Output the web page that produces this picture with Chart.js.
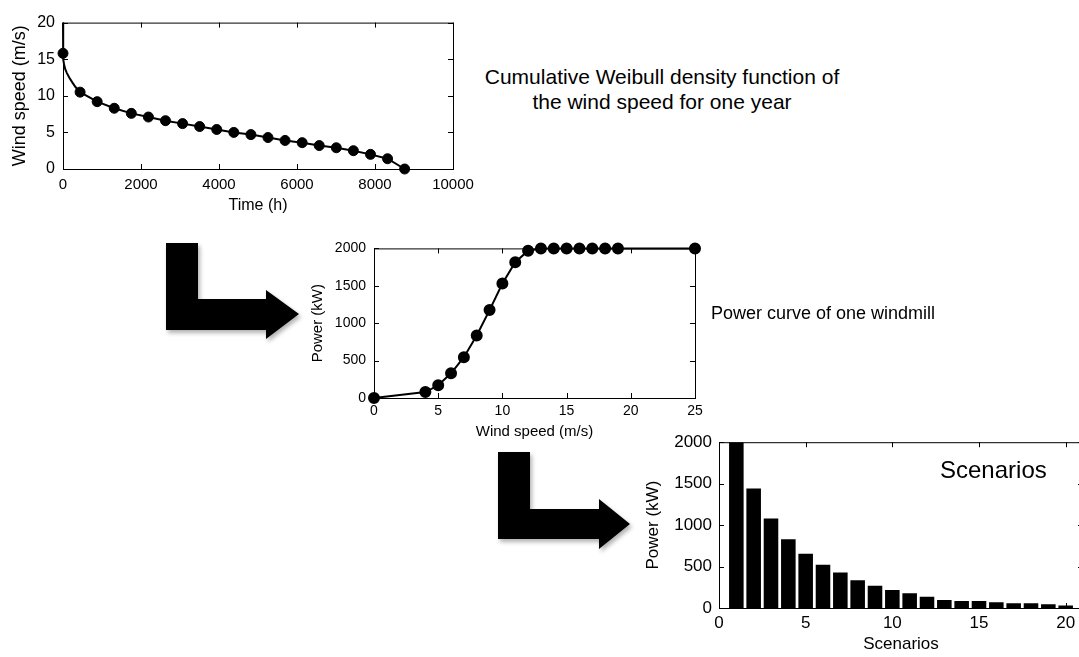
<!DOCTYPE html>
<html>
<head>
<meta charset="utf-8">
<script src="https://cdn.jsdelivr.net/npm/chart.js@4.4.1/dist/chart.umd.min.js"></script>
<style>
  html, body { margin: 0; padding: 0; background: #fff; overflow: hidden; width: 1079px; height: 657px; }
  body { position: relative; font-family: "Liberation Sans", Arial, sans-serif; color: #000; }
  .box { position: absolute; }
  .note { position: absolute; white-space: nowrap; line-height: 1; }
  svg { position: absolute; left: 0; top: 0; }
</style>
</head>
<body>

<div class="box" id="box1"><canvas id="weibull"></canvas></div>
<div class="box" id="box2"><canvas id="powercurve"></canvas></div>
<div class="box" id="box3"><canvas id="scenarios"></canvas></div>

<div class="note" style="left:662px;top:64px;font-size:21px;transform:translateX(-50%);text-align:center;line-height:25px;">
  Cumulative Weibull density function of<br>the wind speed for one year
</div>
<div class="note" style="left:711px;top:304px;font-size:18px;">Power curve of one windmill</div>
<div class="note" style="left:940px;top:458px;font-size:24px;">Scenarios</div>

<svg width="1079" height="657">
  <defs>
    <filter id="shade" x="-10%" y="-10%" width="130%" height="130%">
      <feDropShadow dx="2" dy="3" stdDeviation="2" flood-color="#000" flood-opacity="0.3"/>
    </filter>
  </defs>
  <polygon filter="url(#shade)" fill="#000"
    points="166,243 198,243 198,299 266,299 266,290 299,314 266,339 266,330 166,330"/>
  <polygon filter="url(#shade)" fill="#000"
    points="498,452 530,452 530,509 599,509 599,499 630,524 599,549 599,539 498,539"/>
</svg>

<script>
Chart.defaults.color = '#000';
Chart.defaults.font.family = '"Liberation Sans", Arial, sans-serif';
Chart.defaults.animation = false;

// --- chart 1: wind speed duration curve ---
const hours = [0, 438, 876, 1314, 1752, 2190, 2628, 3066, 3504, 3942, 4380,
  4818, 5256, 5694, 6132, 6570, 7008, 7446, 7884, 8322, 8760];
const windSpeed = [15.8, 10.5, 9.2, 8.3, 7.6, 7.1, 6.6, 6.2, 5.8, 5.4, 5.0,
  4.7, 4.3, 3.9, 3.6, 3.2, 2.9, 2.5, 2.0, 1.4, 0];
// steep start of the curve, between x=0 and the second marker
const headHours = [0, 0, 10, 30, 60, 100, 160, 230, 320];
const headSpeed = [20, 15.8, 15.0, 14.2, 13.6, 13.1, 12.5, 11.9, 11.2];
const timeTicks = [0, 2000, 4000, 6000, 8000, 10000];
const speedTicks = [0, 5, 10, 15, 20];

// --- chart 2: power curve ---
const curveSpeed = [0, 4, 5, 6, 7, 8, 9, 10, 11, 12, 13, 14, 15, 16, 17, 18, 19, 25];
const curvePower = [0, 80, 170, 330, 545, 835, 1175, 1530, 1815, 1970,
  2000, 2000, 2000, 2000, 2000, 2000, 2000, 2000];
const curveSpeedTicks = [0, 5, 10, 15, 20, 25];
const powerTicks = [0, 500, 1000, 1500, 2000];

// --- chart 3: scenarios ---
const scenarioNo = [1, 2, 3, 4, 5, 6, 7, 8, 9, 10, 11, 12, 13, 14, 15, 16, 17, 18, 19, 20];
const scenarioPower = [2000, 1442, 1079, 829, 654, 521, 429, 335, 269, 217,
  177, 135, 98, 84, 84, 69, 58, 58, 45, 31];
const scenarioTicks = [0, 5, 10, 15, 20];

const zip = (xs, ys) => xs.map((x, i) => ({ x, y: ys[i] }));

// matlab-ish box with inward ticks on all four sides
const matlabAxes = {
  id: 'matlabAxes',
  beforeDatasetsDraw(chart, args, opts) {
    const { ctx, chartArea: a } = chart;
    const { x, y } = chart.scales;
    const len = opts.tickLen || 5;
    ctx.save();
    ctx.strokeStyle = '#000';
    ctx.lineWidth = 1;
    ctx.strokeRect(a.left + 0.5, a.top + 0.5, a.right - a.left, a.bottom - a.top);
    ctx.beginPath();
    x.ticks.forEach((t) => {
      const px = Math.round(x.getPixelForValue(t.value)) + 0.5;
      ctx.moveTo(px, a.bottom); ctx.lineTo(px, a.bottom - len);
      ctx.moveTo(px, a.top); ctx.lineTo(px, a.top + len);
    });
    y.ticks.forEach((t) => {
      const py = Math.round(y.getPixelForValue(t.value)) + 0.5;
      ctx.moveTo(a.left, py); ctx.lineTo(a.left + len, py);
      ctx.moveTo(a.right, py); ctx.lineTo(a.right - len, py);
    });
    ctx.stroke();
    ctx.restore();
  },
};

// place a chart so its plot area lands on the given rectangle
function place(boxId, g) {
  const el = document.getElementById(boxId);
  el.style.left = (g.l - g.yW) + 'px';
  el.style.top = (g.t - g.padT) + 'px';
  el.style.width = (g.r + g.padR - g.l + g.yW) + 'px';
  el.style.height = (g.b + g.xH - g.t + g.padT) + 'px';
}

const plain = (v) => String(v);

function axes(g, xr, yr) {
  return {
    x: {
      type: 'linear', min: xr.min, max: xr.max, offset: false,
      grid: { display: false, drawTicks: false }, border: { display: false },
      afterBuildTicks: (s) => { s.ticks = xr.ticks.map((v) => ({ value: v })); },
      afterFit: (s) => { s.height = g.xH; },
      ticks: { padding: g.xPad, maxRotation: 0, font: { size: g.xTick }, callback: plain },
      title: { display: true, text: xr.title, padding: 0, font: { size: g.xTitle } },
    },
    y: {
      type: 'linear', min: yr.min, max: yr.max,
      grid: { display: false, drawTicks: false }, border: { display: false },
      afterBuildTicks: (s) => { s.ticks = yr.ticks.map((v) => ({ value: v })); },
      afterFit: (s) => { s.width = g.yW; },
      ticks: { padding: g.yPad, font: { size: g.yTick }, callback: plain },
      title: { display: true, text: yr.title, padding: 0, font: { size: g.yTitle } },
    },
  };
}

function baseOptions(g, xr, yr) {
  return {
    responsive: true,
    maintainAspectRatio: false,
    layout: { padding: { top: g.padT, right: g.padR, left: 0, bottom: 0 } },
    plugins: { legend: { display: false }, tooltip: { enabled: false }, matlabAxes: { tickLen: 5 } },
    scales: axes(g, xr, yr),
  };
}

const g1 = { l: 63, t: 15, r: 453, b: 169, yW: 54, xH: 46, padT: 10, padR: 30,
  xPad: 7, yPad: 8, xTick: 15, yTick: 16, xTitle: 16, yTitle: 18 };
const g2 = { l: 374, t: 242, r: 695, b: 398, yW: 65, xH: 43, padT: 10, padR: 20,
  xPad: 5, yPad: 8, xTick: 14, yTick: 14, xTitle: 15, yTitle: 15 };
const g3 = { l: 719, t: 435, r: 1083, b: 608, yW: 76, xH: 47, padT: 10, padR: 5,
  xPad: 5, yPad: 7, xTick: 17, yTick: 17, xTitle: 17, yTitle: 17 };

place('box1', g1);
place('box2', g2);
place('box3', g3);

new Chart(document.getElementById('weibull'), {
  type: 'line',
  data: {
    datasets: [
      {
        // head of the curve, then on through the markers (first marker is already in the head)
        data: zip(headHours, headSpeed).concat(zip(hours, windSpeed).slice(1)),
        borderColor: '#000', borderWidth: 2, pointRadius: 0, tension: 0, clip: false,
      },
      {
        data: zip(hours, windSpeed),
        showLine: false, pointRadius: 5, pointBackgroundColor: '#000',
        pointBorderColor: '#000', clip: false,
      },
    ],
  },
  options: baseOptions(g1,
    { min: 0, max: 10000, ticks: timeTicks, title: 'Time (h)' },
    { min: 0, max: 20, ticks: speedTicks, title: 'Wind speed (m/s)' }),
  plugins: [matlabAxes],
});

new Chart(document.getElementById('powercurve'), {
  type: 'line',
  data: {
    datasets: [{
      data: zip(curveSpeed, curvePower),
      borderColor: '#000', borderWidth: 2, pointRadius: 5,
      pointBackgroundColor: '#000', pointBorderColor: '#000', clip: false,
    }],
  },
  options: baseOptions(g2,
    { min: 0, max: 25, ticks: curveSpeedTicks, title: 'Wind speed (m/s)' },
    { min: 0, max: 2000, ticks: powerTicks, title: 'Power (kW)' }),
  plugins: [matlabAxes],
});

new Chart(document.getElementById('scenarios'), {
  type: 'bar',
  data: {
    datasets: [{
      data: zip(scenarioNo, scenarioPower),
      backgroundColor: '#000', borderWidth: 0,
      barPercentage: 0.84, categoryPercentage: 1,
    }],
  },
  options: baseOptions(g3,
    { min: 0, max: 21, ticks: scenarioTicks, title: 'Scenarios' },
    { min: 0, max: 2000, ticks: powerTicks, title: 'Power (kW)' }),
  plugins: [matlabAxes],
});
</script>
</body>
</html>
